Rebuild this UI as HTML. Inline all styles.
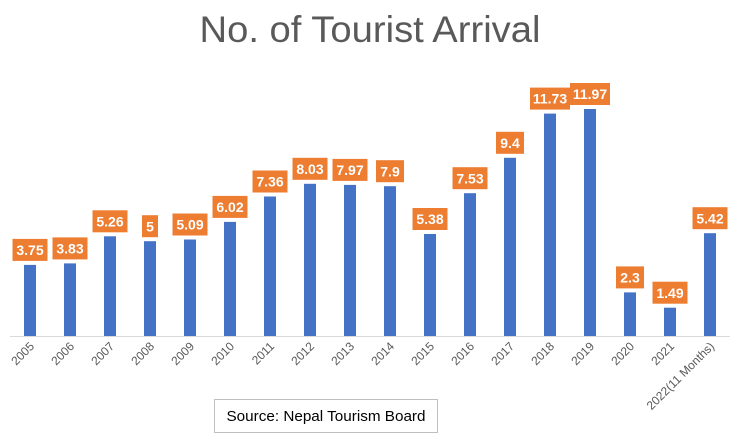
<!DOCTYPE html>
<html><head><meta charset="utf-8"><style>
html,body{margin:0;padding:0;background:#fff;}
svg{display:block;font-family:"Liberation Sans",sans-serif;}
.b{fill:#4472C4}
.l{fill:#ED7D31}
.v{fill:#fff;font-weight:bold;font-size:14px;text-anchor:middle}
.x{fill:#595959;font-size:12px;text-anchor:end}
</style></head><body>
<svg width="732" height="434" viewBox="0 0 732 434">
<rect width="732" height="434" fill="#fff"/>
<text x="370" y="42" font-size="37" fill="#595959" text-anchor="middle" textLength="341" lengthAdjust="spacingAndGlyphs">No. of Tourist Arrival</text>
<line x1="10" y1="336.5" x2="730" y2="336.5" stroke="#d9d9d9" stroke-width="1"/>
<g>
<rect class="b" x="24" y="264.9" width="12" height="71.1"/>
<rect class="b" x="64" y="263.4" width="12" height="72.6"/>
<rect class="b" x="104" y="236.3" width="12" height="99.7"/>
<rect class="b" x="144" y="241.2" width="12" height="94.8"/>
<rect class="b" x="184" y="239.5" width="12" height="96.5"/>
<rect class="b" x="224" y="221.9" width="12" height="114.1"/>
<rect class="b" x="264" y="196.5" width="12" height="139.5"/>
<rect class="b" x="304" y="183.8" width="12" height="152.2"/>
<rect class="b" x="344" y="184.9" width="12" height="151.1"/>
<rect class="b" x="384" y="186.2" width="12" height="149.8"/>
<rect class="b" x="424" y="234.0" width="12" height="102.0"/>
<rect class="b" x="464" y="193.2" width="12" height="142.8"/>
<rect class="b" x="504" y="157.8" width="12" height="178.2"/>
<rect class="b" x="544" y="113.6" width="12" height="222.4"/>
<rect class="b" x="584" y="109.0" width="12" height="227.0"/>
<rect class="b" x="624" y="292.4" width="12" height="43.6"/>
<rect class="b" x="664" y="307.7" width="12" height="28.3"/>
<rect class="b" x="704" y="233.2" width="12" height="102.8"/>
</g>
<g>
<rect class="l" x="12.5" y="238.9" width="35" height="22"/><text class="v" x="30" y="255">3.75</text>
<rect class="l" x="52.5" y="237.4" width="35" height="22"/><text class="v" x="70" y="253.5">3.83</text>
<rect class="l" x="92.5" y="210.3" width="35" height="22"/><text class="v" x="110" y="226.4">5.26</text>
<rect class="l" x="142" y="215.2" width="16" height="22"/><text class="v" x="150" y="231.3">5</text>
<rect class="l" x="172.5" y="213.5" width="35" height="22"/><text class="v" x="190" y="229.6">5.09</text>
<rect class="l" x="212.5" y="195.9" width="35" height="22"/><text class="v" x="230" y="212">6.02</text>
<rect class="l" x="252.5" y="170.5" width="35" height="22"/><text class="v" x="270" y="186.6">7.36</text>
<rect class="l" x="292.5" y="157.8" width="35" height="22"/><text class="v" x="310" y="173.9">8.03</text>
<rect class="l" x="332.5" y="158.9" width="35" height="22"/><text class="v" x="350" y="175">7.97</text>
<rect class="l" x="376" y="160.2" width="28" height="22"/><text class="v" x="390" y="176.3">7.9</text>
<rect class="l" x="412.5" y="208.0" width="35" height="22"/><text class="v" x="430" y="224.1">5.38</text>
<rect class="l" x="452.5" y="167.2" width="35" height="22"/><text class="v" x="470" y="183.3">7.53</text>
<rect class="l" x="496" y="131.8" width="28" height="22"/><text class="v" x="510" y="147.9">9.4</text>
<rect class="l" x="530" y="87.6" width="40" height="22"/><text class="v" x="550" y="103.7">11.73</text>
<rect class="l" x="570" y="83.0" width="40" height="22"/><text class="v" x="590" y="99.1">11.97</text>
<rect class="l" x="616" y="266.4" width="28" height="22"/><text class="v" x="630" y="282.5">2.3</text>
<rect class="l" x="652.5" y="281.7" width="35" height="22"/><text class="v" x="670" y="297.8">1.49</text>
<rect class="l" x="692.5" y="207.2" width="35" height="22"/><text class="v" x="710" y="223.3">5.42</text>
</g>
<g>
<text class="x" transform="translate(35,347) rotate(-45)">2005</text>
<text class="x" transform="translate(75,347) rotate(-45)">2006</text>
<text class="x" transform="translate(115,347) rotate(-45)">2007</text>
<text class="x" transform="translate(155,347) rotate(-45)">2008</text>
<text class="x" transform="translate(195,347) rotate(-45)">2009</text>
<text class="x" transform="translate(235,347) rotate(-45)">2010</text>
<text class="x" transform="translate(275,347) rotate(-45)">2011</text>
<text class="x" transform="translate(315,347) rotate(-45)">2012</text>
<text class="x" transform="translate(355,347) rotate(-45)">2013</text>
<text class="x" transform="translate(395,347) rotate(-45)">2014</text>
<text class="x" transform="translate(435,347) rotate(-45)">2015</text>
<text class="x" transform="translate(475,347) rotate(-45)">2016</text>
<text class="x" transform="translate(515,347) rotate(-45)">2017</text>
<text class="x" transform="translate(555,347) rotate(-45)">2018</text>
<text class="x" transform="translate(595,347) rotate(-45)">2019</text>
<text class="x" transform="translate(635,347) rotate(-45)">2020</text>
<text class="x" transform="translate(675,347) rotate(-45)">2021</text>
<text class="x" transform="translate(715,347) rotate(-45)">2022(11 Months)</text>
</g>
<rect x="214.5" y="399.5" width="223" height="33" fill="#fff" stroke="#bfbfbf" stroke-width="1"/>
<text x="326" y="421" font-size="15" fill="#000" text-anchor="middle" textLength="199" lengthAdjust="spacingAndGlyphs">Source: Nepal Tourism Board</text>
</svg>
</body></html>
